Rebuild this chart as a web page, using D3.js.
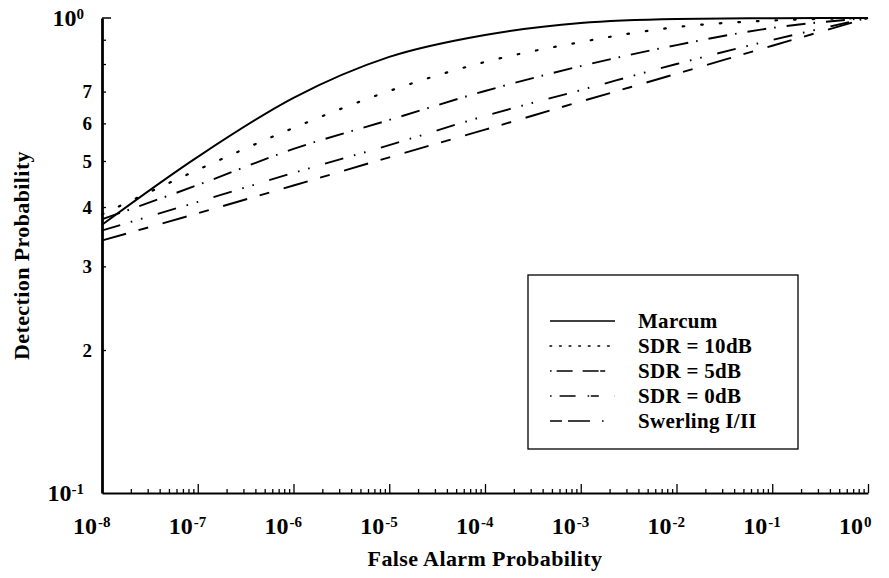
<!DOCTYPE html>
<html>
<head>
<meta charset="utf-8">
<script src="https://cdn.jsdelivr.net/npm/d3@7"></script>
<style>
  body { margin: 0; background: #fff; }
  svg { display: block; }
  text { font-family: "Liberation Serif", "Times New Roman", serif; font-weight: bold; fill: #000; }
</style>
</head>
<body>
<svg id="chart" width="889" height="578"></svg>
<script>
// false alarm probability, one point per decade
var pfa = [1e-8, 1e-7, 1e-6, 1e-5, 1e-4, 1e-3, 1e-2, 1e-1, 1];

// detection probability
var marcum   = [0.367, 0.510, 0.679, 0.828, 0.921, 0.976, 0.995, 0.999, 1.0];
var sdr10    = [0.386, 0.479, 0.587, 0.702, 0.808, 0.890, 0.957, 0.988, 1.0];
var sdr5     = [0.377, 0.445, 0.530, 0.610, 0.702, 0.792, 0.877, 0.953, 1.0];
var sdr0     = [0.357, 0.410, 0.472, 0.540, 0.622, 0.705, 0.800, 0.899, 1.0];
var swerling = [0.340, 0.388, 0.444, 0.509, 0.582, 0.667, 0.763, 0.874, 1.0];

var seriesNames = ["Marcum", "SDR = 10dB", "SDR = 5dB", "SDR = 0dB", "Swerling I/II"];
var xTickExp = [-8, -7, -6, -5, -4, -3, -2, -1, 0];
var yTickVals = [0.2, 0.3, 0.4, 0.5, 0.6, 0.7, 0.8, 0.9];
var yTickLabels = ["2", "3", "4", "5", "6", "7", "", ""];

var svg = d3.select("#chart");
var plotL = 102, plotR = 868, plotT = 18, plotB = 493;

var x = d3.scaleLog().domain([1e-8, 1]).range([plotL, plotR]);
var y = d3.scaleLog().domain([0.1, 1]).range([plotB, plotT]);

// dash patterns for the curves
var dashes = [null, "1.6,17", "19,8,1.6,11", "19,11,1.6,9,1.6,16", "25,13,10,15"];
var legendDashes = [null, "1.6,8", "1.6,5,16,10,16", "1.6,8,16,12,1.6", "12,6,22,12,1.6"];

var series = [marcum, sdr10, sdr5, sdr0, swerling];

// x axis, minor + decade ticks pointing inward
var minor = [];
for (var e = -8; e < 0; e++) {
  for (var m = 2; m <= 9; m++) minor.push(m * Math.pow(10, e));
}
var major = xTickExp.slice(1).map(function(k) { return Math.pow(10, k); });

var gx = svg.append("g").attr("transform", "translate(0," + plotB + ")");
gx.call(d3.axisBottom(x).tickValues(minor).tickSize(-4).tickSizeOuter(0).tickFormat(""));
gx.append("g").call(d3.axisBottom(x).tickValues(major).tickSize(-9).tickSizeOuter(0).tickFormat(""))
  .select(".domain").remove();
gx.selectAll(".domain").attr("stroke-width", 2.2);
gx.selectAll(".tick line").attr("stroke-width", 1.3);

// x tick labels 10^k
xTickExp.forEach(function(k) {
  var tx = x(Math.pow(10, k));
  svg.append("text").attr("x", tx - 5).attr("y", 534)
    .attr("text-anchor", "end").style("font-size", "24px").text("10");
  svg.append("text").attr("x", tx - 4).attr("y", 527)
    .attr("text-anchor", "start").style("font-size", "15px").text(k === 0 ? "0" : String(k));
});

// y axis
var gy = svg.append("g").attr("transform", "translate(" + plotL + ",0)");
gy.call(d3.axisLeft(y).tickValues(yTickVals).tickSize(-4).tickSizeOuter(0).tickPadding(10)
  .tickFormat(function(d, i) { return yTickLabels[i]; }));
gy.select(".domain").attr("stroke-width", 2.8);
gy.selectAll(".tick line").attr("stroke-width", 1.3);
gy.selectAll(".tick text").style("font-size", "19px").style("font-family", null);
gy.append("line").attr("x1", 0).attr("x2", 9).attr("y1", y(1)).attr("y2", y(1))
  .attr("stroke", "#000").attr("stroke-width", 1.5);

[[1, "0"], [0.1, "-1"]].forEach(function(p) {
  var t = svg.append("text").attr("x", 84).attr("y", y(p[0]) + 8)
    .attr("text-anchor", "end").style("font-size", "24px").text("10");
  t.append("tspan").attr("dy", -7).style("font-size", "15px").text(p[1]);
});

// curves
var line = d3.line()
  .x(function(d) { return x(d[0]); })
  .y(function(d) { return y(d[1]); })
  .curve(d3.curveMonotoneX);

series.forEach(function(vals, i) {
  svg.append("path")
    .datum(pfa.map(function(p, j) { return [p, vals[j]]; }))
    .attr("d", line)
    .attr("fill", "none")
    .attr("stroke", "#000")
    .attr("stroke-width", i === 1 ? 2.2 : 1.9)
    .attr("stroke-linecap", i === 1 ? "round" : "butt")
    .attr("stroke-dasharray", dashes[i]);
});

// axis titles
svg.append("text").attr("x", (plotL + plotR) / 2).attr("y", 566)
  .attr("text-anchor", "middle").style("font-size", "22px").style("letter-spacing", "0.4px")
  .text("False Alarm Probability");
svg.append("text").attr("transform", "translate(29," + ((plotT + plotB) / 2) + ") rotate(-90)")
  .attr("text-anchor", "middle").style("font-size", "22px").style("letter-spacing", "0.4px")
  .text("Detection Probability");

// legend
var lg = svg.append("g");
lg.append("rect").attr("x", 528).attr("y", 275).attr("width", 270).attr("height", 174)
  .attr("fill", "#fff").attr("stroke", "#000").attr("stroke-width", 1.3);

seriesNames.forEach(function(name, i) {
  var cy = 321 + i * 25;
  lg.append("line").attr("x1", 550).attr("x2", 615).attr("y1", cy).attr("y2", cy)
    .attr("stroke", "#000").attr("stroke-width", 1.6)
    .attr("stroke-linecap", i === 1 ? "round" : "butt")
    .attr("stroke-dasharray", legendDashes[i]);
  lg.append("text").attr("x", 638).attr("y", cy + 7)
    .style("font-size", "21px").style("letter-spacing", "0.3px").text(name);
});
</script>
</body>
</html>
